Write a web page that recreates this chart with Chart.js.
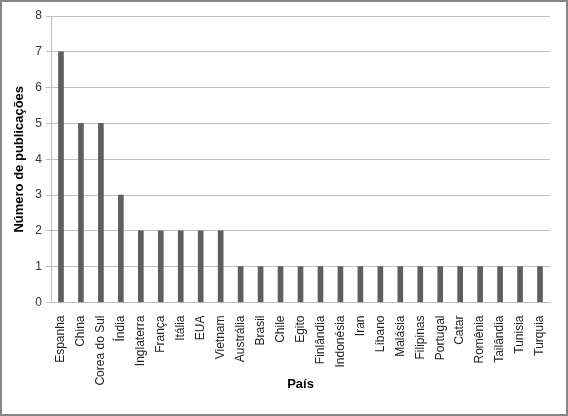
<!DOCTYPE html>
<html><head><meta charset="utf-8">
<script src="https://cdn.jsdelivr.net/npm/chart.js@4"></script>
<style>html,body{margin:0;padding:0;background:#fff}#w{width:568px;height:416px}</style>
</head><body><div id="w"><canvas id="c" width="568" height="416"></canvas></div>
<script>
const paises = ["Espanha","China","Corea do Sul","Índia","Inglaterra","França","Itália","EUA","Vietnam","Austrália","Brasil","Chile","Egito","Finlândia","Indonésia","Iran","Líbano","Malásia","Filipinas","Portugal","Catar","Romênia","Tailândia","Tunisia","Turquia"];
const publicacoes = [7,5,5,3,2,2,2,2,2,1,1,1,1,1,1,1,1,1,1,1,1,1,1,1,1];
const yTicks = [0,1,2,3,4,5,6,7,8];

const border = {id:'border',afterDraw(c){const x=c.ctx;x.save();x.strokeStyle='#868686';x.lineWidth=2;x.strokeRect(1,1,566,414);x.restore();}};
new Chart(document.getElementById('c'),{
  type:'bar',
  data:{labels:paises,datasets:[{data:publicacoes,backgroundColor:'#5f5f5f',barThickness:5}]},
  options:{responsive:false,animation:false,
    layout:{padding:{top:16,right:18,left:12,bottom:20}},
    plugins:{legend:{display:false},tooltip:{enabled:false}},
    scales:{
      x:{grid:{display:false},border:{color:'#bfbfbf'},
        ticks:{autoSkip:false,maxRotation:90,minRotation:90,color:'#222',padding:5,font:{family:'Liberation Sans',size:12}},
        title:{display:true,text:'País',color:'#000',font:{family:'Liberation Sans',size:13,weight:'bold'},padding:{top:4,bottom:4}},
        afterFit(s){s.height=93.5;}},
      y:{min:0,max:8,afterBuildTicks(s){s.ticks=yTicks.map(v=>({value:v}));},
        grid:{color:'#bfbfbf',tickLength:5},border:{color:'#bfbfbf'},
        ticks:{color:'#333',padding:4,font:{family:'Liberation Sans',size:12}},
        title:{display:true,text:'Número de publicações',color:'#000',font:{family:'Liberation Sans',size:13,weight:'bold'},padding:{top:0,bottom:6}},
        afterFit(s){s.width=39;}}
    }},
  plugins:[border]
});
</script></body></html>
